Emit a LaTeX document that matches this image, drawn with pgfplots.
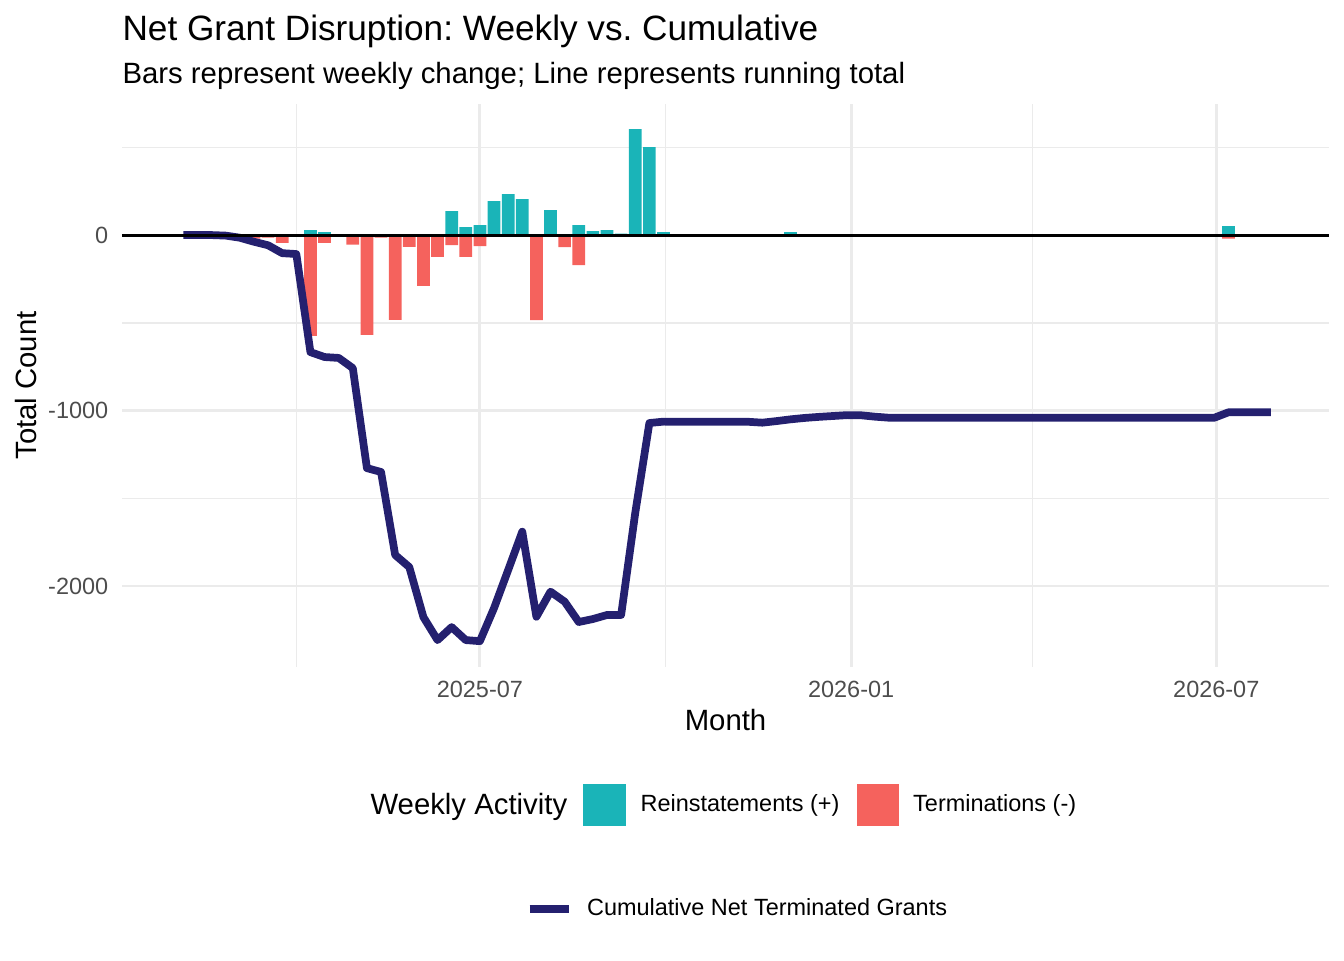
\documentclass[border=0pt]{standalone}
\usepackage{pgfplots}
\pgfplotsset{compat=1.18}
\usepackage{fontspec}
\setmainfont{Liberation Sans}
\frenchspacing
\definecolor{tealc}{HTML}{1AB4B8}
\definecolor{redc}{HTML}{F5625D}
\definecolor{navyc}{HTML}{24206F}
\definecolor{gridc}{HTML}{EBEBEB}
\definecolor{tickc}{HTML}{4D4D4D}
\pgfplotsset{
  sqkeyA/.style={legend image code/.code={\fill[##1] (0pt,-7.9pt) rectangle (16.1pt,7.9pt);}},
  sqkeyB/.style={legend image code/.code={\fill[##1] (0pt,-7.9pt) rectangle (15.75pt,7.9pt);}},
  linekey/.style={legend image code/.code={\draw[##1] (0pt,0pt) -- (14.6pt,0pt);}},
}
\begin{document}
\begin{tikzpicture}
\useasboundingbox (0pt,0pt) rectangle (504pt,360pt);
\begin{axis}[
  at={(45.75pt,109.9pt)}, anchor=south west,
  width=452.65pt, height=211.1pt, scale only axis,
  xmin=3.6, xmax=601.9, ymin=-2461, ymax=747,
  axis line style={draw=none}, tick style={draw=none},
  major tick length=0pt, minor tick length=0pt,
  xtick={181,365,546}, xticklabels={2025-07,2026-01,2026-07},
  minor xtick={90,273,455},
  ytick={-2000,-1000,0}, yticklabels={-2000,-1000,0},
  minor ytick={-1500,-500,500},
  xmajorgrids, xminorgrids, ymajorgrids, yminorgrids,
  major grid style={line width=1.07pt, color=gridc},
  minor grid style={line width=0.53pt, color=gridc},
  /pgf/number format/assume math mode=true,
  tick label style={font=\fontsize{8.8}{10.56}\selectfont, text=tickc, inner sep=0pt},
  xticklabel style={anchor=base, yshift=-11.4pt},
  yticklabel style={anchor=base east, xshift=-4.95pt, yshift=-3.15pt},
  xlabel={Month}, ylabel={Total Count},
  label style={font=\fontsize{11}{13.2}\selectfont, inner sep=0pt},
  xlabel style={at={(axis description cs:0.5,-0.1137)}, anchor=base},
  ylabel style={at={(axis description cs:-0.07125,0.5)}, anchor=base},
  legend columns=2, legend cell align=left,
  legend style={at={(axis description cs:0.3819,-0.2460)}, anchor=west,
    draw=none, fill=none, inner sep=0pt, outer sep=0pt,
    font=\fontsize{8.8}{10.56}\selectfont, nodes={inner sep=0pt},
    /tikz/every odd column/.append style={column sep=5.5pt},
    /tikz/every even column/.append style={column sep=6.4pt}},
]
\addplot[ybar, bar width=6.3, bar shift=0pt, fill=tealc, draw=none, sqkeyA]
  coordinates {
  (97,28) (104,17) (139,5) (167,137) (174,46) (181,57) (188,194) (195,234)
  (202,205) (216,142) (223,5) (230,57) (237,23) (244,28) (251,8) (258,604)
  (265,501) (272,17) (328,4) (335,17) (342,4) (349,4) (363,4) (552,51)
  };
\addlegendentry{Reinstatements (+)}
\addplot[ybar, bar width=6.3, bar shift=0pt, fill=redc, draw=none, sqkeyB]
  coordinates {
  (69,-20) (76,-15) (83,-44) (90,-10) (97,-574) (104,-44) (118,-55) (125,-568)
  (132,-15) (139,-483) (146,-67) (153,-289) (160,-124) (167,-57) (174,-124)
  (181,-63) (209,-484) (223,-68) (230,-171) (552,-20)
  };
\addlegendentry{Terminations (-)}
\addplot[navyc, line width=2.9pt, line join=round, forget plot] coordinates {
  (34,0) (41,0) (48,0) (55,-3) (62,-15) (69,-38) (76,-58) (83,-103) (90,-108)
  (97,-667) (104,-695) (111,-700) (118,-758) (125,-1328) (132,-1350)
  (139,-1823) (146,-1892) (153,-2177) (160,-2308) (167,-2234) (174,-2308)
  (181,-2314) (188,-2126) (195,-1909) (202,-1690) (209,-2175) (216,-2032)
  (223,-2089) (230,-2205) (237,-2188) (244,-2165) (251,-2165) (258,-1583)
  (265,-1071) (272,-1063) (279,-1064) (286,-1064) (293,-1064) (300,-1064)
  (307,-1064) (314,-1064) (321,-1069) (328,-1060) (335,-1050) (342,-1042)
  (349,-1036) (356,-1031) (363,-1026) (370,-1027) (377,-1035) (384,-1041)
  (391,-1041) (398,-1041) (405,-1041) (412,-1041) (419,-1041) (426,-1041)
  (433,-1041) (440,-1041) (447,-1041) (454,-1041) (461,-1041) (468,-1041)
  (475,-1041) (482,-1041) (489,-1041) (496,-1041) (503,-1041) (510,-1041)
  (517,-1041) (524,-1041) (531,-1041) (538,-1041) (545,-1041) (552,-1010)
  (559,-1010) (566,-1010) (573,-1010)
  };
\addplot[black, line width=1.07pt, forget plot] coordinates {(3.6,0) (601.9,0)};
\end{axis}
\begin{axis}[
  at={(0pt,0pt)}, anchor=south west, width=504pt, height=360pt, scale only axis,
  hide axis, xmin=0, xmax=1, ymin=0, ymax=1,
  legend cell align=left,
  legend style={at={(0.3912,0.05306)}, anchor=west,
    draw=none, fill=none, inner sep=0pt, outer sep=0pt,
    font=\fontsize{8.8}{10.56}\selectfont, nodes={inner sep=0pt},
    /tikz/every odd column/.append style={column sep=5.5pt}},
]
\addlegendimage{navyc, line width=2.9pt, line cap=butt, linekey}
\addlegendentry{Cumulative Net Terminated Grants}
\end{axis}
\node[anchor=base west, inner sep=0pt, font=\fontsize{13.2}{15.84}\selectfont] at (45.75pt,344.7pt) {Net Grant Disruption: Weekly vs. Cumulative};
\node[anchor=base west, inner sep=0pt, font=\fontsize{11}{13.2}\selectfont] at (45.75pt,328.6pt) {Bars represent weekly change; Line represents running total};
\node[anchor=base west, inner sep=0pt, font=\fontsize{11}{13.2}\selectfont] at (138.75pt,54.6pt) {Weekly Activity};
\end{tikzpicture}
\end{document}
